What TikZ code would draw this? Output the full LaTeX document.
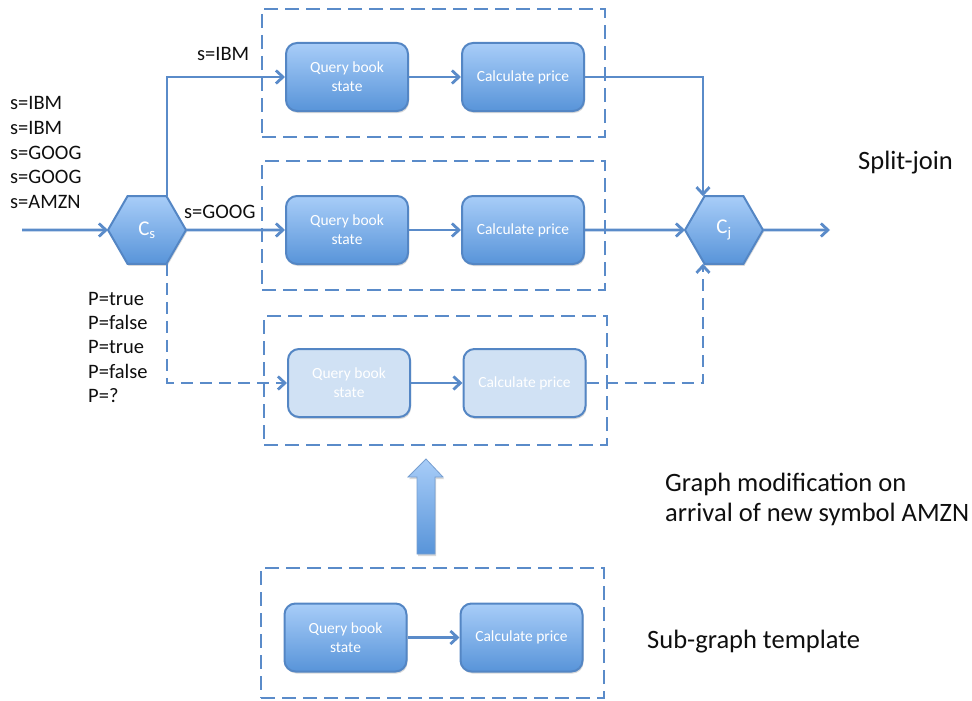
\documentclass[tikz,border=0pt]{standalone}
\usepackage{fontspec}
\setmainfont{Carlito}
\usetikzlibrary{shapes.geometric,arrows.meta,shadows}
\definecolor{lineblue}{RGB}{90,139,201}
\definecolor{boxtop}{RGB}{168,205,248}
\definecolor{boxbot}{RGB}{88,148,217}
\definecolor{boxborder}{RGB}{84,134,196}
\definecolor{lightfill}{RGB}{208,225,244}
\definecolor{txt}{RGB}{15,15,15}
\tikzset{
  shad/.style={drop shadow={shadow xshift=1pt,shadow yshift=-2pt,opacity=0.25,fill=black!60}},
  proc/.style={rounded corners=11pt, draw=boxborder, line width=2pt,
    top color=boxtop, bottom color=boxbot, text=white,
    font=\fontsize{15.5}{19}\selectfont, align=center,
    minimum width=122pt, minimum height=68pt, inner sep=0pt, shad},
  lightproc/.style={proc, top color=lightfill, bottom color=lightfill},
  hexa/.style={regular polygon, regular polygon sides=6, minimum size=78pt,
    inner sep=0pt, outer sep=0pt, draw=boxborder, line width=2pt,
    top color=boxtop, bottom color=boxbot, text=white,
    font=\fontsize{21}{24}\selectfont, shad},
  frame/.style={draw=lineblue, line width=2.8pt, dash pattern=on 14pt off 7pt,
    inner sep=0pt, outer sep=0pt},
  conn/.style={draw=lineblue, line width=2.8pt,
    -{Straight Barb[length=7pt,width=13pt,line width=2.8pt]}},
  dconn/.style={conn, dash pattern=on 12pt off 7pt},
  lbl/.style={text=txt, font=\fontsize{20.5}{24}\selectfont, inner sep=0pt, anchor=base west},
  side/.style={text=txt, font=\fontsize{26.5}{30}\selectfont, inner sep=0pt, anchor=base west},
}
\begin{document}
\begin{tikzpicture}[x=1pt,y=-1pt]
\useasboundingbox (0,0) rectangle (972,701);
% frames
\node[frame, minimum width=343pt, minimum height=128pt] (f1) at (433.5,73) {};
\node[frame, minimum width=343pt, minimum height=129pt] (f2) at (433.5,225.5) {};
\node[frame, minimum width=343pt, minimum height=129pt] (f3) at (435.5,380.5) {};
\node[frame, minimum width=343pt, minimum height=130pt] (f4) at (432.5,633) {};
% processing boxes
\node[proc] (qb1) at (347,77) {Query book\\state};
\node[proc] (cp1) at (523,77) {Calculate price};
\node[proc] (qb2) at (347,230) {Query book\\state};
\node[proc] (cp2) at (523,230) {Calculate price};
\node[lightproc] (qb3) at (349,383) {Query book\\state};
\node[lightproc] (cp3) at (524.5,383) {Calculate price};
\node[proc] (qb4) at (345.5,637.5) {Query book\\state};
\node[proc] (cp4) at (521.5,637.5) {Calculate price};
% split and join
\node[hexa] (Cs) at (147,230) {C\textsubscript{s}};
\node[hexa] (Cj) at (724,230) {C\textsubscript{j}};
% connectors
\coordinate (in) at (22,230);
\coordinate (out) at (830,230);
\draw[conn] (in) -- (Cs.west);
\draw[conn] ([xshift=20pt]Cs.north) |- (qb1.west);
\draw[conn] (Cs.east) -- (qb2.west);
\draw[dconn] ([xshift=20pt]Cs.south) |- (qb3.west);
\draw[conn] (qb1) -- (cp1);
\draw[conn] (qb2) -- (cp2);
\draw[conn] (qb3) -- (cp3);
\draw[conn] (qb4) -- (cp4);
\draw[conn] (cp1.east) -| ([xshift=-21pt]Cj.north);
\draw[conn] (cp2.east) -- (Cj.west);
\draw[dconn] (cp3.east) -| ([xshift=-21pt]Cj.south);
\draw[conn] (Cj.east) -- (out);
% big up arrow
\coordinate (ua) at (426,554);
\coordinate (ub) at (426,459);
\draw[draw=boxborder!80, line width=0.8pt, top color=boxtop, bottom color=boxbot, shad]
  (417,554) -- (417,477) -- (408,477) -- (ub) -- (443,477) -- (435,477) -- (435,554) -- cycle;
% labels
\node[lbl] (l1) at (10,110) {s=IBM};
\node[lbl] (l2) at (10,134.5) {s=IBM};
\node[lbl] (l3) at (10,159) {s=GOOG};
\node[lbl] (l4) at (10,183.5) {s=GOOG};
\node[lbl] (l5) at (10,208) {s=AMZN};
\node[lbl] (p1) at (88,305) {P=true};
\node[lbl] (p2) at (88,329) {P=false};
\node[lbl] (p3) at (88,353.5) {P=true};
\node[lbl] (p4) at (88,378) {P=false};
\node[lbl] (p5) at (88,402) {P=?};
\node[lbl] (ibm) at (197,60) {s=IBM};
\node[lbl] (goog) at (184,218) {s=GOOG};
\node[side] (sj) at (858,169) {Split-join};
\node[side] (g1) at (665,491) {Graph modification on};
\node[side] (g2) at (665,521) {arrival of new symbol AMZN};
\node[side] (sg) at (647,648) {Sub-graph template};
\end{tikzpicture}
\end{document}
